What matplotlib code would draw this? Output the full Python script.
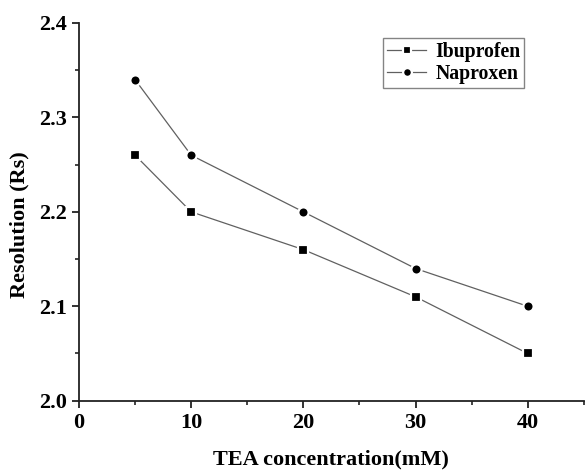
import matplotlib
matplotlib.use("Agg")
import matplotlib.pyplot as plt
from matplotlib.ticker import MultipleLocator

tea = [5, 10, 20, 30, 40]
ibuprofen = [2.26, 2.20, 2.16, 2.11, 2.05]
naproxen = [2.34, 2.26, 2.20, 2.14, 2.10]
xticks = [0, 10, 20, 30, 40]
yticks = [2.0, 2.1, 2.2, 2.3, 2.4]

plt.rcParams['font.family'] = ['Liberation Serif', 'DejaVu Serif']
plt.rcParams['font.weight'] = 'bold'

fig = plt.figure(figsize=(5.85, 4.7), dpi=100)
ax = fig.add_axes([79/585, 69.3/470, 1 - 79/585 - 0.002, (400.7-23)/470])

line_kw = dict(color='#606060', linewidth=0.9, markerfacecolor='black',
               markeredgecolor='white', markeredgewidth=1.6)
ax.plot(tea, ibuprofen, marker='s', markersize=7.0, label='Ibuprofen', **line_kw)
ax.plot(tea, naproxen, marker='o', markersize=7.4, label='Naproxen', **line_kw)

ax.set_xlim(0, 45)
ax.set_ylim(2.0, 2.4)
ax.set_xticks(xticks)
ax.set_yticks(yticks)
ax.set_xticklabels([str(v) for v in xticks])
ax.set_yticklabels([f"{v:.1f}" for v in yticks])
ax.xaxis.set_minor_locator(MultipleLocator(5))
ax.yaxis.set_minor_locator(MultipleLocator(0.05))

for s in ['top', 'right']:
    ax.spines[s].set_visible(False)
for s in ['left', 'bottom']:
    ax.spines[s].set_linewidth(1.3)
    ax.spines[s].set_color('#222222')

ax.tick_params(which='major', direction='out', length=5, width=1.3, labelsize=16, pad=4, colors='#222222')
ax.tick_params(which='minor', direction='out', length=3, width=1.2, colors='#222222')
for lab in ax.get_xticklabels() + ax.get_yticklabels():
    lab.set_fontweight('bold')
    lab.set_color('black')

ax.set_xlabel('TEA concentration(mM)', fontsize=16, fontweight='bold', labelpad=12)
ax.set_ylabel('Resolution (Rs)', fontsize=16, fontweight='bold')
ax.yaxis.set_label_coords(-0.098, 0.465)

leg = ax.legend(loc='upper left', bbox_to_anchor=(383/585, 1 - 38/470),
                bbox_transform=fig.transFigure, fontsize=14.2,
                frameon=True, fancybox=False, edgecolor='#666666',
                handlelength=2.0, handletextpad=0.45, borderpad=0.2,
                labelspacing=0.12, borderaxespad=0, markerscale=0.85)
leg.get_frame().set_linewidth(1.0)
for t in leg.get_texts():
    t.set_fontweight('bold')

fig.savefig('out.png', dpi=100)
